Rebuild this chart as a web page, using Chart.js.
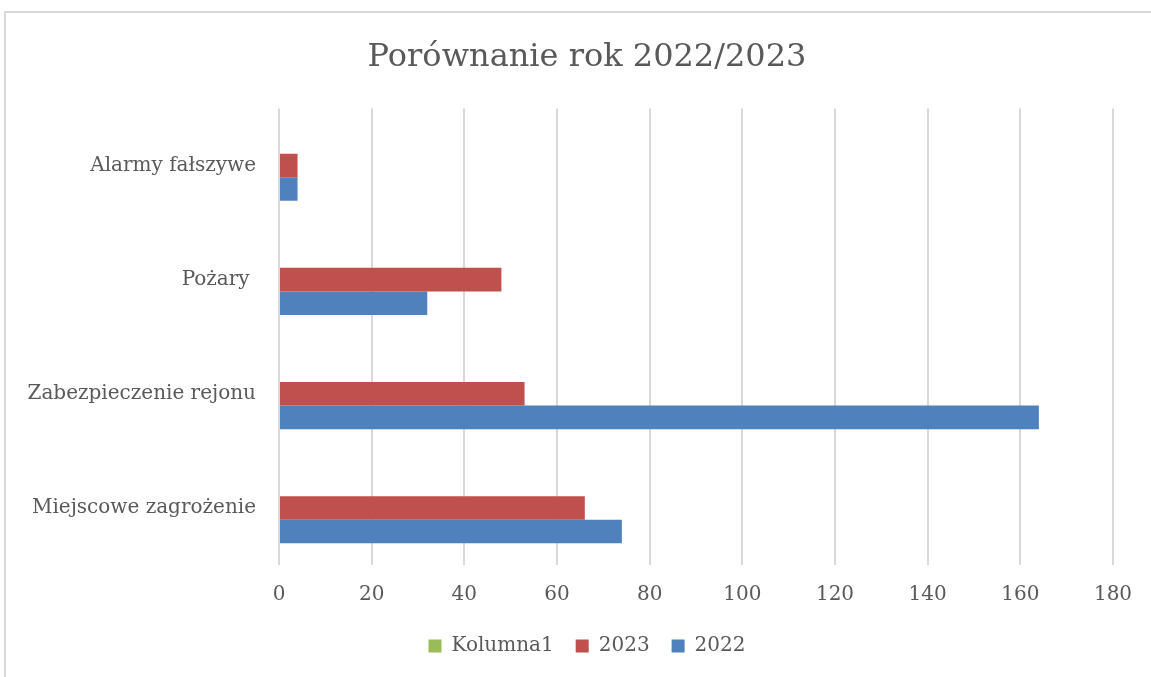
<!DOCTYPE html>
<html>
<head>
<meta charset="utf-8">
<script src="https://cdn.jsdelivr.net/npm/chart.js@4/dist/chart.umd.min.js"></script>
<style>
  html, body { margin: 0; background: #fff; overflow: hidden; }
  #wrap { position: relative; width: 1151px; height: 677px; overflow: hidden; }
  #frame { position: absolute; left: 4px; top: 11px; right: -10px; bottom: -10px;
           border-left: 2px solid #d9d9d9; border-top: 2px solid #d9d9d9; }
  canvas { position: absolute; left: 0; top: 0; }
</style>
</head>
<body>
<div id="wrap">
  <div id="frame"></div>
  <!-- the chart object in the picture runs past the right edge, so the canvas does too -->
  <canvas id="porownanie" width="1174" height="677"></canvas>
</div>
<script>
// categories, top to bottom as in the picture
const categories = ['Alarmy fałszywe', 'Pożary ', 'Zabezpieczenie rejonu', 'Miejscowe zagrożenie'];
const kolumna1 = [null, null, null, null];
const values2023 = [4, 48, 53, 66];
const values2022 = [4, 32, 164, 74];
const xTicks = [0, 20, 40, 60, 80, 100, 120, 140, 160, 180];

const textGray = '#595959';
const serif = "'DejaVu Serif', serif";

const ctx = document.getElementById('porownanie').getContext('2d');

new Chart(ctx, {
  type: 'bar',
  data: {
    labels: categories,
    datasets: [
      { label: 'Kolumna1', data: kolumna1, backgroundColor: '#9bbb59' },
      { label: '2023', data: values2023, backgroundColor: '#c0504d' },
      { label: '2022', data: values2022, backgroundColor: '#4f81bd' }
    ]
  },
  options: {
    indexAxis: 'y',
    responsive: false,
    animation: false,
    datasets: {
      bar: { categoryPercentage: 0.62, barPercentage: 1, borderWidth: 0 }
    },
    layout: { padding: { left: 0, right: 0, top: 0, bottom: 11 } },
    plugins: {
      title: {
        display: true,
        text: 'Porównanie rok 2022/2023',
        color: textGray,
        font: { family: serif, size: 32, weight: 'normal' },
        padding: { top: 38, bottom: 32 }
      },
      legend: {
        position: 'bottom',
        labels: {
          color: textGray,
          font: { family: serif, size: 20 },
          boxWidth: 13,
          boxHeight: 13,
          padding: 22
        }
      },
      tooltip: { enabled: false }
    },
    scales: {
      x: {
        min: 0,
        max: 180,
        afterBuildTicks: (scale) => { scale.ticks = xTicks.map(v => ({ value: v })); },
        afterFit: (scale) => { scale.height = 49; },
        grid: { color: '#d9d9d9', lineWidth: 2, drawTicks: false },
        border: { display: false },
        ticks: { color: textGray, font: { family: serif, size: 20 }, padding: 18 }
      },
      y: {
        afterFit: (scale) => { scale.width = 279; },
        grid: { display: false, drawTicks: false },
        border: { display: false },
        ticks: { color: textGray, font: { family: serif, size: 20 }, padding: 23 }
      },
      // empty right-hand axis: keeps the space right of the plot
      // while the title and legend stay centred on the whole chart object
      spacer: {
        axis: 'y',
        type: 'linear',
        position: 'right',
        afterFit: (scale) => { scale.width = 61; },
        grid: { display: false, drawTicks: false },
        border: { display: false },
        ticks: { display: false }
      }
    }
  }
});
</script>
</body>
</html>
